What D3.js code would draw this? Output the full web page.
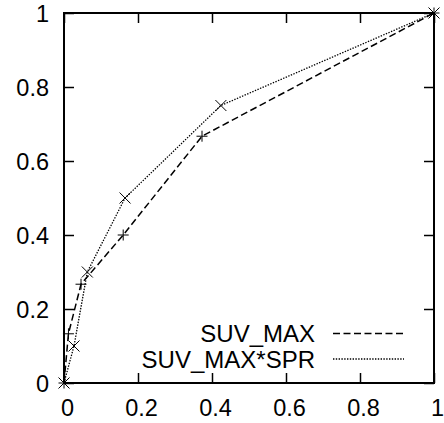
<!DOCTYPE html>
<html>
<head>
<meta charset="utf-8">
<script src="https://cdn.jsdelivr.net/npm/d3@7"></script>
<style>
   body { margin: 0; background: #fff; }
   text { font-family: "Liberation Sans", Arial, sans-serif; font-size: 23.5px; fill: #000; }
</style>
</head>
<body>
<div id="chart"></div>
<script>

// SERIES DATA (FALSE POSITIVE RATE, TRUE POSITIVE RATE)
var suvX = [0, 0.012, 0.046, 0.16, 0.373, 1];
var suvY = [0, 0.133, 0.267, 0.4, 0.667, 1];
var sprX = [0, 0.027, 0.063, 0.165, 0.424, 1];
var sprY = [0, 0.1, 0.3, 0.5, 0.75, 1];

// LEGEND LABELS AND TICKS
var labels = ['SUV_MAX', 'SUV_MAX*SPR'];
var ticks = [0, 0.2, 0.4, 0.6, 0.8, 1];

// CANVAS SETTINGS
var settings = { width: 444, height: 423, left: 64, top: 13, right: 434, bottom: 383 };

var svg = d3.select('#chart').append('svg')
   .attr('width', settings.width)
   .attr('height', settings.height)

// SCALES
var xScale = d3.scaleLinear().domain([0, 1]).range([settings.left, settings.right])
var yScale = d3.scaleLinear().domain([0, 1]).range([settings.bottom, settings.top])

// AXES - TICKS POINT INWARDS, MIRRORED ON TOP/RIGHT
var fmt = d => d3.format('~g')(d);

var xAxis = svg.append('g')
   .attr('transform', 'translate(0,' + settings.bottom + ')')
   .call(d3.axisBottom(xScale).tickValues(ticks).tickSize(-10).tickPadding(16).tickFormat(fmt))
xAxis.selectAll('text').attr('dx', 3)

svg.append('g')
   .attr('transform', 'translate(0,' + settings.top + ')')
   .call(d3.axisTop(xScale).tickValues(ticks).tickSize(-10).tickFormat(''))

var yAxis = svg.append('g')
   .attr('transform', 'translate(' + settings.left + ',0)')
   .call(d3.axisLeft(yScale).tickValues(ticks).tickSize(-10).tickPadding(15).tickFormat(fmt))
yAxis.selectAll('text').attr('dy', '0.38em')

svg.append('g')
   .attr('transform', 'translate(' + settings.right + ',0)')
   .call(d3.axisRight(yScale).tickValues(ticks).tickSize(-10).tickFormat(''))

svg.selectAll('.domain').remove()
svg.selectAll('.tick line').attr('stroke', '#000').attr('stroke-width', 1.5)
svg.selectAll('.tick text').style('font-size', '23.5px').attr('fill', '#000')

// FRAME
svg.append('rect')
   .attr('x', settings.left)
   .attr('y', settings.top)
   .attr('width', settings.right - settings.left)
   .attr('height', settings.bottom - settings.top)
   .attr('fill', 'none')
   .attr('stroke', '#000')
   .attr('stroke-width', 2)

// LINES
var series = [
   { x: suvX, y: suvY, dash: '7,3.5', width: 1.5, mark: 'plus' },
   { x: sprX, y: sprY, dash: '1.4,1.4', width: 1.3, mark: 'cross' }
];

var line = d3.line()
   .x(d => xScale(d[0]))
   .y(d => yScale(d[1]))

series.forEach(s => {
   var pts = s.x.map((v, i) => [v, s.y[i]]);

   svg.append('path')
      .attr('fill', 'none')
      .attr('stroke', '#000')
      .attr('stroke-width', s.width)
      .attr('stroke-dasharray', s.dash)
      .attr('d', line(pts))

   // MARKERS
   var r = 5.5;
   pts.forEach(p => {
      var cx = xScale(p[0]), cy = yScale(p[1]);
      var d = s.mark == 'plus'
         ? 'M' + (cx - r) + ',' + cy + 'H' + (cx + r) + 'M' + cx + ',' + (cy - r) + 'V' + (cy + r)
         : 'M' + (cx - r) + ',' + (cy - r) + 'L' + (cx + r) + ',' + (cy + r) + 'M' + (cx - r) + ',' + (cy + r) + 'L' + (cx + r) + ',' + (cy - r);
      svg.append('path')
         .attr('d', d)
         .attr('stroke', '#000')
         .attr('stroke-width', 1)
         .attr('fill', 'none')
   });
});

// LEGEND
labels.forEach((lab, i) => {
   var y = 333.5 + i * 25.5;
   svg.append('text')
      .attr('x', 315)
      .attr('y', y + 8.5)
      .attr('text-anchor', 'end')
      .style('font-size', '24px')
      .text(lab)
   svg.append('line')
      .attr('x1', 333).attr('x2', 404)
      .attr('y1', y).attr('y2', y)
      .attr('stroke', '#000')
      .attr('stroke-width', series[i].width)
      .attr('stroke-dasharray', series[i].dash)
});

</script>
</body>
</html>
